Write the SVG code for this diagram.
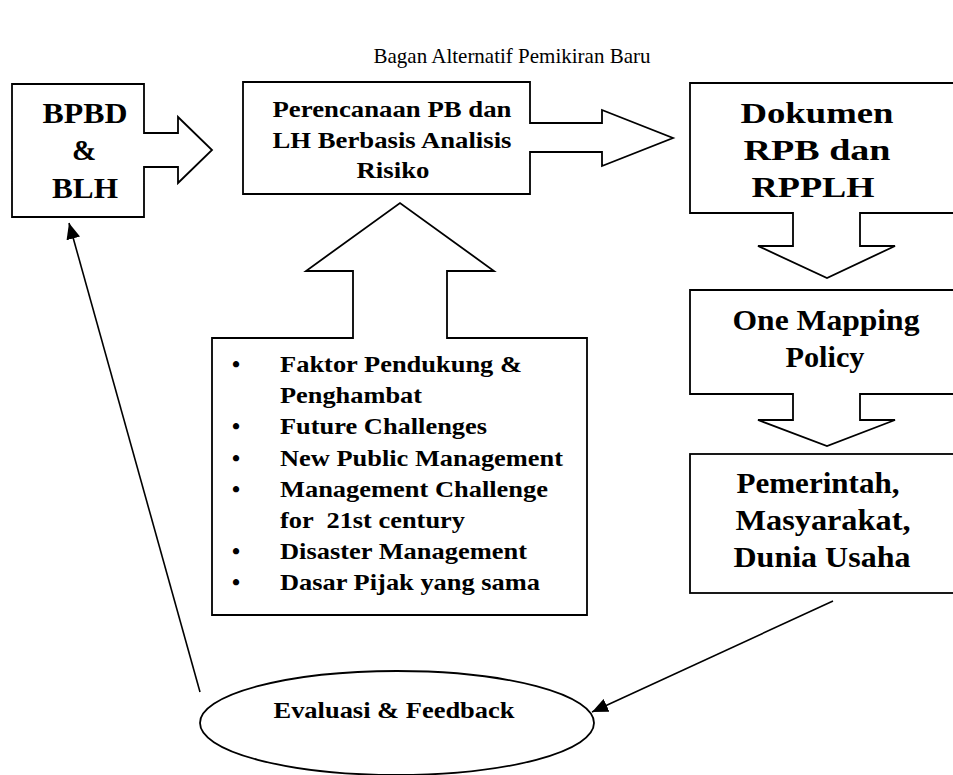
<svg xmlns="http://www.w3.org/2000/svg" width="953" height="775" viewBox="0 0 953 775">
<style>
.shape{fill:#fff;stroke:#000;stroke-width:1.8;stroke-linejoin:miter}
.t{font-family:"Liberation Serif","Times New Roman",serif;font-weight:bold;fill:#000}
.c{text-anchor:middle}
.big{font-size:29px}
.mid{font-size:23px}
.title{font-family:"Liberation Serif","Times New Roman",serif;font-size:21px;fill:#000;text-anchor:middle}
.conn{stroke:#000;stroke-width:1.6;fill:none}
</style>
<defs>
<marker id="ah" viewBox="0 0 16 14" refX="16" refY="7" markerWidth="16" markerHeight="14" markerUnits="userSpaceOnUse" orient="auto">
<path d="M0,0 L16,7 L0,14 Z" fill="#000"/>
</marker>
</defs>
<rect width="953" height="775" fill="#fff"/>
<text class="title" x="512" y="63">Bagan Alternatif Pemikiran Baru</text>

<g id="bpbd">
<path class="shape" d="M12,84 H144 V133 H178 V117 L212,150 L178,183 V167 H144 V217 H12 Z"/>
<text class="t c big" x="85" y="123" textLength="85" lengthAdjust="spacingAndGlyphs">BPBD</text>
<text class="t c big" x="84" y="160">&amp;</text>
<text class="t c big" x="85" y="198" textLength="66" lengthAdjust="spacingAndGlyphs">BLH</text>
</g>

<g id="perencanaan">
<path class="shape" d="M243,82 H530 V123 H602 V110 L673,138 L602,166 V152 H530 V194 H243 Z"/>
<text class="t c mid" x="392" y="117" textLength="239" lengthAdjust="spacingAndGlyphs">Perencanaan PB dan</text>
<text class="t c mid" x="392" y="148" textLength="239" lengthAdjust="spacingAndGlyphs">LH Berbasis Analisis</text>
<text class="t c mid" x="393" y="178" textLength="73" lengthAdjust="spacingAndGlyphs">Risiko</text>
</g>

<g id="dokumen">
<path class="shape" d="M690,83 H958 V213 H860 V246 H895 L827,278 L758,246 H793 V213 H690 Z"/>
<text class="t c big" x="817" y="123" textLength="153" lengthAdjust="spacingAndGlyphs">Dokumen</text>
<text class="t c big" x="817" y="160" textLength="147" lengthAdjust="spacingAndGlyphs">RPB dan</text>
<text class="t c big" x="813" y="197" textLength="123" lengthAdjust="spacingAndGlyphs">RPPLH</text>
</g>

<g id="one-mapping">
<path class="shape" d="M690,290 H958 V394 H860 V420 H895 L827,446 L758,420 H793 V394 H690 Z"/>
<text class="t c big" x="826" y="330" textLength="187" lengthAdjust="spacingAndGlyphs">One Mapping</text>
<text class="t c big" x="825" y="367" textLength="79" lengthAdjust="spacingAndGlyphs">Policy</text>
</g>

<g id="pemerintah">
<rect class="shape" x="690" y="454" width="268" height="139"/>
<text class="t c big" x="818" y="493" textLength="163" lengthAdjust="spacingAndGlyphs">Pemerintah,</text>
<text class="t c big" x="823" y="530" textLength="175" lengthAdjust="spacingAndGlyphs">Masyarakat,</text>
<text class="t c big" x="822" y="567" textLength="177" lengthAdjust="spacingAndGlyphs">Dunia Usaha</text>
</g>

<g id="faktor">
<path class="shape" d="M212,338 H353 V271 H306 L400,203 L494,271 H447 V338 H587 V615 H212 Z"/>
<g class="t mid">
<text x="232" y="372">•</text>
<text x="280" y="372" textLength="242" lengthAdjust="spacingAndGlyphs">Faktor Pendukung &amp;</text>
<text x="280" y="403" textLength="142" lengthAdjust="spacingAndGlyphs">Penghambat</text>
<text x="232" y="434">•</text>
<text x="280" y="434" textLength="207" lengthAdjust="spacingAndGlyphs">Future Challenges</text>
<text x="232" y="466">•</text>
<text x="280" y="466" textLength="283" lengthAdjust="spacingAndGlyphs">New Public Management</text>
<text x="232" y="497">•</text>
<text x="280" y="497" textLength="268" lengthAdjust="spacingAndGlyphs">Management Challenge</text>
<text x="280" y="528" textLength="185" lengthAdjust="spacingAndGlyphs" xml:space="preserve">for  21st century</text>
<text x="232" y="559">•</text>
<text x="280" y="559" textLength="247" lengthAdjust="spacingAndGlyphs">Disaster Management</text>
<text x="232" y="590">•</text>
<text x="280" y="590" textLength="260" lengthAdjust="spacingAndGlyphs">Dasar Pijak yang sama</text>
</g>
</g>

<g id="evaluasi">
<ellipse class="shape" cx="397" cy="723" rx="197" ry="52"/>
<text class="t c mid" x="394" y="718" textLength="241" lengthAdjust="spacingAndGlyphs">Evaluasi &amp; Feedback</text>
</g>

<g id="connectors">
<line class="conn" x1="200" y1="692" x2="69" y2="223" marker-end="url(#ah)"/>
<line class="conn" x1="833" y1="601" x2="592" y2="712" marker-end="url(#ah)"/>
</g>
</svg>
